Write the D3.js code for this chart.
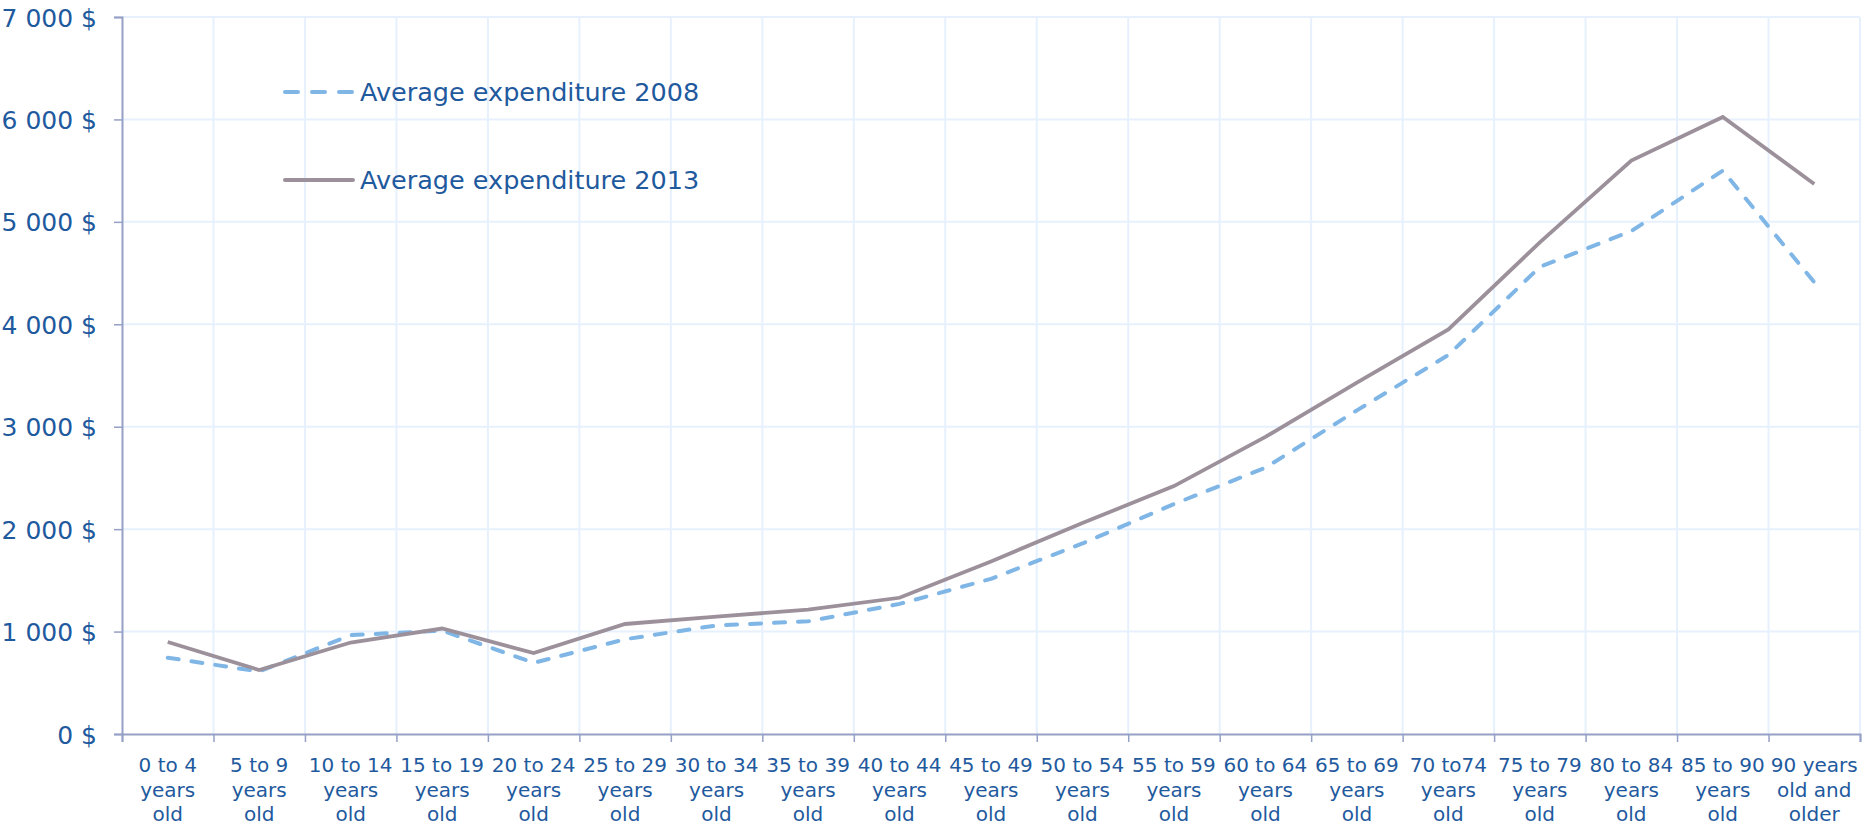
<!DOCTYPE html>
<html>
<head>
    <script src="https://d3js.org/d3.v7.min.js"></script>
    <style>
        body { margin: 0; background: #fff; }
        text { font-family: "DejaVu Sans", sans-serif; fill: #1f5a9e; }
    </style>
</head>
<body>
    <div id="chart"></div>

    <script>
        const ageGroups = [
            ["0 to 4", "years", "old"], ["5 to 9", "years", "old"], ["10 to 14", "years", "old"],
            ["15 to 19", "years", "old"], ["20 to 24", "years", "old"], ["25 to 29", "years", "old"],
            ["30 to 34", "years", "old"], ["35 to 39", "years", "old"], ["40 to 44", "years", "old"],
            ["45 to 49", "years", "old"], ["50 to 54", "years", "old"], ["55 to 59", "years", "old"],
            ["60 to 64", "years", "old"], ["65 to 69", "years", "old"], ["70 to74", "years", "old"],
            ["75 to 79", "years", "old"], ["80 to 84", "years", "old"], ["85 to 90", "years", "old"],
            ["90 years", "old and", "older"]
        ];
        const exp2008 = [745, 610, 965, 1010, 695, 925, 1060, 1100, 1270, 1515, 1860, 2245, 2600, 3160, 3700, 4560, 4910, 5500, 4410];
        const exp2013 = [898, 625, 893, 1030, 790, 1074, 1145, 1215, 1330, 1685, 2060, 2420, 2900, 3430, 3950, 4800, 5598, 6023, 5370];
        const yTicks = [0, 1000, 2000, 3000, 4000, 5000, 6000, 7000];
        const seriesNames = ["Average expenditure 2008", "Average expenditure 2013"];

        const W = 1864, H = 829;
        const mLeft = 122, mRight = 1860, mTop = 17, mBottom = 734;

        const svg = d3.select("#chart").append("svg")
            .attr("width", W).attr("height", H);

        const x = d3.scaleBand().domain(d3.range(ageGroups.length)).range([mLeft, mRight]);
        const y = d3.scaleLinear().domain([0, 7000]).range([mBottom, mTop]);

        // grid
        svg.append("g").selectAll("line").data(yTicks.slice(1)).join("line")
            .attr("x1", mLeft).attr("x2", mRight)
            .attr("y1", d => y(d)).attr("y2", d => y(d))
            .attr("stroke", "#e6f1fd").attr("stroke-width", 2);
        svg.append("g").selectAll("line").data(d3.range(1, ageGroups.length + 1)).join("line")
            .attr("x1", d => mLeft + d * x.step()).attr("x2", d => mLeft + d * x.step())
            .attr("y1", mTop).attr("y2", mBottom)
            .attr("stroke", "#e6f1fd").attr("stroke-width", 2);

        // y axis
        const fmt = d => d3.format(",")(d).replace(",", " ") + " $";
        const yAxis = svg.append("g").attr("transform", `translate(${mLeft},0)`)
            .call(d3.axisLeft(y).tickValues(yTicks).tickFormat(fmt).tickSize(8).tickPadding(17));
        yAxis.select(".domain").attr("stroke", "#95a0c6").attr("stroke-width", 2);
        yAxis.selectAll(".tick line").attr("stroke", "#95a0c6").attr("stroke-width", 1.5);
        yAxis.selectAll("text").attr("font-size", 25).attr("dy", "0.36em");
        yAxis.attr("font-family", null);

        // x axis
        const xAxis = svg.append("g").attr("transform", `translate(0,${mBottom})`)
            .call(d3.axisBottom(d3.scaleLinear().domain([0, ageGroups.length]).range([mLeft, mRight]))
                .tickValues(d3.range(ageGroups.length + 1)).tickFormat("").tickSize(8));
        xAxis.select(".domain").attr("stroke", "#95a0c6").attr("stroke-width", 2);
        xAxis.selectAll(".tick line").attr("stroke", "#95a0c6").attr("stroke-width", 1.5);

        svg.append("g").selectAll("text").data(ageGroups).join("text")
            .attr("x", (d, i) => x(i) + x.bandwidth() / 2)
            .attr("y", 772)
            .attr("text-anchor", "middle")
            .attr("font-size", 20)
            .selectAll("tspan").data(d => d).join("tspan")
            .attr("x", function () { return d3.select(this.parentNode).attr("x"); })
            .attr("dy", (d, i) => i === 0 ? 0 : 24.5)
            .text(d => d);

        // lines
        const line = d3.line().x((d, i) => x(i) + x.bandwidth() / 2).y(d => y(d));
        svg.append("path").datum(exp2008)
            .attr("d", line).attr("fill", "none")
            .attr("stroke", "#7fb6e6").attr("stroke-width", 4)
            .attr("stroke-dasharray", "11,13").attr("stroke-linecap", "round");
        svg.append("path").datum(exp2013)
            .attr("d", line).attr("fill", "none")
            .attr("stroke", "#9c919b").attr("stroke-width", 3.8);

        // legend
        const legend = svg.append("g");
        const legY = [92, 180];
        legend.selectAll("line").data(seriesNames).join("line")
            .attr("x1", 285).attr("x2", 353)
            .attr("y1", (d, i) => legY[i]).attr("y2", (d, i) => legY[i])
            .attr("stroke", (d, i) => i === 0 ? "#7fb6e6" : "#9c919b")
            .attr("stroke-width", 4)
            .attr("stroke-linecap", "round")
            .attr("stroke-dasharray", (d, i) => i === 0 ? "13,14" : null);
        legend.selectAll("text").data(seriesNames).join("text")
            .attr("x", 360).attr("y", (d, i) => legY[i])
            .attr("dy", "0.36em")
            .attr("font-size", 25.5)
            .text(d => d);
    </script>
</body>
</html>
